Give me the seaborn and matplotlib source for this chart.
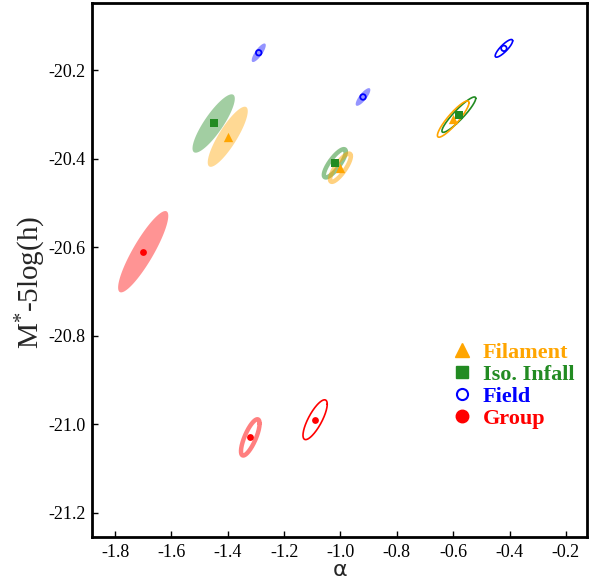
import numpy as np
import pandas as pd
import matplotlib
matplotlib.use("Agg")
import matplotlib.pyplot as plt
import seaborn as sns
from matplotlib.lines import Line2D

# ---- data -------------------------------------------------------------
categories = ["Filament", "Iso. Infall", "Field", "Group"]
cat_colors = ["#FFA500", "#228B22", "#0000FF", "#FF0000"]

# each entry: sample, drawing style, alpha (x), M* (y), half-extent x, half-extent y, correlation
ell_sample = ["Group", "Iso. Infall", "Filament", "Field", "Field",
              "Iso. Infall", "Filament", "Group",
              "Group", "Field", "Iso. Infall", "Filament"]
ell_style = ["fill", "fill", "fill", "fill", "fill",
             "thick", "thick", "thick",
             "thin", "thin", "thin", "thin"]
ell_alpha = [-1.70, -1.45, -1.40, -1.29, -0.92,
             -1.02, -1.00, -1.32,
             -1.09, -0.42, -0.58, -0.60]
ell_mstar = [-20.61, -20.32, -20.35, -20.16, -20.26,
             -20.41, -20.42, -21.03,
             -20.99, -20.15, -20.30, -20.31]
ell_sx = [0.089, 0.075, 0.071, 0.025, 0.026,
          0.039, 0.037, 0.033,
          0.043, 0.031, 0.060, 0.056]
ell_sy = [0.092, 0.066, 0.068, 0.021, 0.020,
          0.032, 0.032, 0.041,
          0.045, 0.020, 0.040, 0.041]
ell_rho = [0.88, 0.85, 0.85, 0.80, 0.80,
           0.82, 0.82, 0.76,
           0.78, 0.85, 0.92, 0.90]

xticks = [-1.8, -1.6, -1.4, -1.2, -1.0, -0.8, -0.6, -0.4, -0.2]
yticks = [-20.2, -20.4, -20.6, -20.8, -21.0, -21.2]

# ---- figure -----------------------------------------------------------
sns.set_style("white")
plt.rcParams["font.family"] = ["Liberation Serif", "DejaVu Serif"]
plt.rcParams["mathtext.fontset"] = "custom"
plt.rcParams["mathtext.rm"] = "Liberation Serif"
plt.rcParams["mathtext.it"] = "Liberation Serif:italic"

fig = plt.figure(figsize=(5.89, 5.79), dpi=100)
ax = fig.add_axes([0.157, 0.072, 0.8397, 0.9224])

color_of = dict(zip(categories, cat_colors))
marker_of = {"Filament": "^", "Iso. Infall": "s", "Field": "o", "Group": "o"}

t = np.linspace(0, 2 * np.pi, 300)
for s, st, cx, cy, sx, sy, r in zip(ell_sample, ell_style, ell_alpha, ell_mstar,
                                   ell_sx, ell_sy, ell_rho):
    c = color_of[s]
    ex = cx + sx * np.cos(t)
    ey = cy + sy * (r * np.cos(t) + np.sqrt(1 - r * r) * np.sin(t))
    if st == "fill":
        ax.fill(ex, ey, color=c, alpha=0.42, lw=0, zorder=1)
    elif st == "thick":
        ax.plot(ex, ey, color=c, alpha=0.5, lw=3.2, zorder=2)
    else:
        ax.plot(ex, ey, color=c, lw=1.2, zorder=2)

df = pd.DataFrame({"alpha": ell_alpha, "mstar": ell_mstar, "sample": ell_sample})
sizes = {"Filament": 45, "Iso. Infall": 38, "Field": 16, "Group": 24}
for cat in categories:
    sub = df[df["sample"] == cat]
    if cat == "Field":
        sns.scatterplot(data=sub, x="alpha", y="mstar", ax=ax, marker="o",
                        s=sizes[cat], facecolors="none", edgecolor=color_of[cat],
                        linewidth=1.3, zorder=4, legend=False)
    else:
        sns.scatterplot(data=sub, x="alpha", y="mstar", ax=ax, marker=marker_of[cat],
                        s=sizes[cat], color=color_of[cat], linewidth=0,
                        zorder=4, legend=False)

ax.set_xlim(-1.88, -0.125)
ax.set_ylim(-21.256, -20.048)
ax.set_xticks(xticks)
ax.set_yticks(yticks)
ax.set_xticklabels([f"{v:.1f}" for v in xticks])
ax.set_yticklabels([f"{v:.1f}" for v in yticks])
ax.tick_params(direction="in", length=4, width=1, labelsize=13,
               bottom=True, left=True, top=False, right=False, pad=5, colors="black")
for sp in ax.spines.values():
    sp.set_linewidth(2)
    sp.set_color("black")

ax.set_xlabel("α", fontsize=16, family="DejaVu Sans", labelpad=-1)
ax.set_ylabel("M$^{*}$-5log(h)", fontsize=21)
ax.yaxis.set_label_coords(-0.09, 0.478)

handles = []
for cat in categories:
    if cat == "Field":
        h = Line2D([], [], ls="none", marker="o", markersize=8, markerfacecolor="none",
                   markeredgecolor=color_of[cat], markeredgewidth=1.5)
    elif cat == "Filament":
        h = Line2D([], [], ls="none", marker="^", markersize=10, color=color_of[cat])
    elif cat == "Iso. Infall":
        h = Line2D([], [], ls="none", marker="s", markersize=8, color=color_of[cat])
    else:
        h = Line2D([], [], ls="none", marker="o", markersize=9, color=color_of[cat])
    handles.append(h)
leg = ax.legend(handles, categories, loc="upper left", bbox_to_anchor=(0.702, 0.382),
                frameon=False, prop={"size": 16, "weight": "bold"}, labelcolor=cat_colors,
                handletextpad=0.35, labelspacing=0.07, borderaxespad=0, handlelength=1.2)

fig.savefig("out.png", dpi=100)
